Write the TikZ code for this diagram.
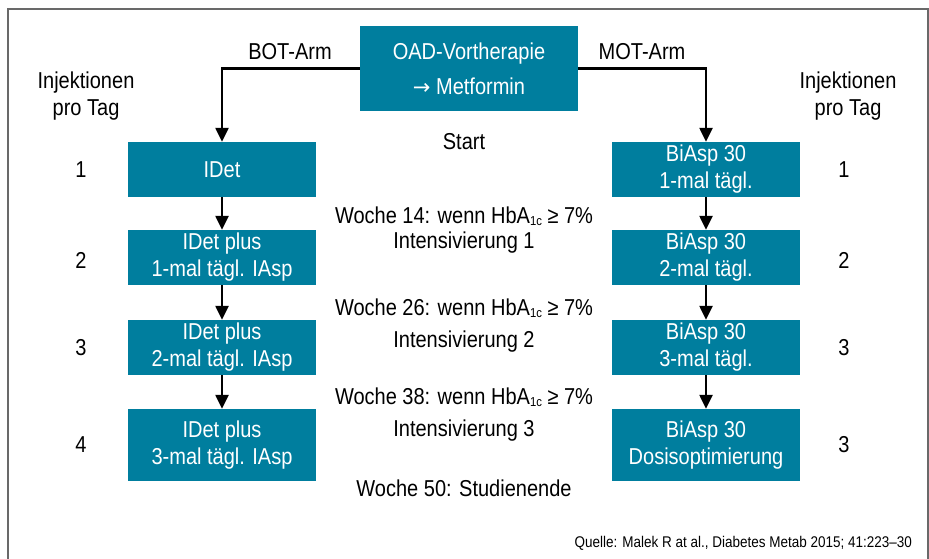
\documentclass[tikz,border=0pt]{standalone}
\usepackage{fontspec}
\setmainfont{Liberation Sans}[FakeStretch=0.87]
\newfontfamily\symfont{DejaVu Sans}
\usetikzlibrary{arrows.meta}
\definecolor{boxteal}{RGB}{0,126,158}
\definecolor{framegray}{RGB}{105,105,105}
\newcommand{\hba}{HbA\raisebox{-2pt}{\fontsize{13}{13}\selectfont 1c}}

\begin{document}
\begin{tikzpicture}[x=1pt,y=-1pt,
  box/.style={fill=boxteal, text=white, inner sep=0pt, align=center,
              minimum width=188pt, font=\fontsize{23}{27}\selectfont},
  lbl/.style={inner sep=0pt, align=center, font=\fontsize{23}{27}\selectfont},
  flow/.style={line width=2.4pt, -{Triangle[length=14pt,width=13pt]}}]
\useasboundingbox (0,0) rectangle (929,559);
% outer frame, open at the bottom
\draw[framegray, line width=1.6pt] (8,575) -- (8,9) -- (928,9) -- (928,575);

% start box
\node[box, minimum width=218pt, minimum height=85pt, font=\fontsize{23}{35}\selectfont]
  (oad) at (469,68.5) {OAD-Vortherapie\\{\symfont\fontsize{21}{21}\selectfont →} Metformin};

% BOT arm
\node[box, minimum height=55pt] (l1) at (222,169.5) {IDet};
\node[box, minimum height=55pt] (l2) at (222,257.5) {IDet plus\\1-mal tägl. IAsp};
\node[box, minimum height=55pt] (l3) at (222,347.5) {IDet plus\\2-mal tägl. IAsp};
\node[box, minimum height=72pt] (l4) at (222,445) {IDet plus\\3-mal tägl. IAsp};

% MOT arm
\node[box, minimum height=55pt] (r1) at (706,169.5) {BiAsp 30\\1-mal tägl.};
\node[box, minimum height=55pt] (r2) at (706,257.5) {BiAsp 30\\2-mal tägl.};
\node[box, minimum height=55pt] (r3) at (706,347.5) {BiAsp 30\\3-mal tägl.};
\node[box, minimum height=72pt] (r4) at (706,445) {BiAsp 30\\Dosisoptimierung};

% connectors
\draw[flow] (oad.west) -| (l1.north);
\draw[flow] (oad.east) -| (r1.north);
\draw[flow] (l1) -- (l2);
\draw[flow] (l2) -- (l3);
\draw[flow] (l3) -- (l4);
\draw[flow] (r1) -- (r2);
\draw[flow] (r2) -- (r3);
\draw[flow] (r3) -- (r4);

% arm labels
\node[lbl] (bot) at (290,52) {BOT-Arm};
\node[lbl] (mot) at (642,52) {MOT-Arm};

% injections per day
\node[lbl] (injl) at (86,96) {Injektionen\\pro Tag};
\node[lbl] (injr) at (848,96) {Injektionen\\pro Tag};
\node[lbl] (nl1) at (81,170) {1};
\node[lbl] (nl2) at (81,260) {2};
\node[lbl] (nl3) at (81,348) {3};
\node[lbl] (nl4) at (81,445) {4};
\node[lbl] (nr1) at (844,170) {1};
\node[lbl] (nr2) at (844,260) {2};
\node[lbl] (nr3) at (844,348) {3};
\node[lbl] (nr4) at (844,445) {3};

% timeline
\node[lbl] (start) at (464,142) {Start};
\node[lbl] (w14) at (464,216) {Woche 14: wenn \hba{} ≥ 7\%};
\node[lbl] (i1) at (464,243) {Intensivierung 1};
\node[lbl] (w26) at (464,308) {Woche 26: wenn \hba{} ≥ 7\%};
\node[lbl] (i2) at (464,342) {Intensivierung 2};
\node[lbl] (w38) at (464,397) {Woche 38: wenn \hba{} ≥ 7\%};
\node[lbl] (i3) at (464,431) {Intensivierung 3};
\node[lbl] (w50) at (464,488) {Woche 50: Studienende};

% source
\node[inner sep=0pt, anchor=east, font=\fontsize{15.5}{15.5}\selectfont] (src) at (912,543)
  {Quelle: Malek R at al., Diabetes Metab 2015; 41:223–30};
\end{tikzpicture}
\end{document}
